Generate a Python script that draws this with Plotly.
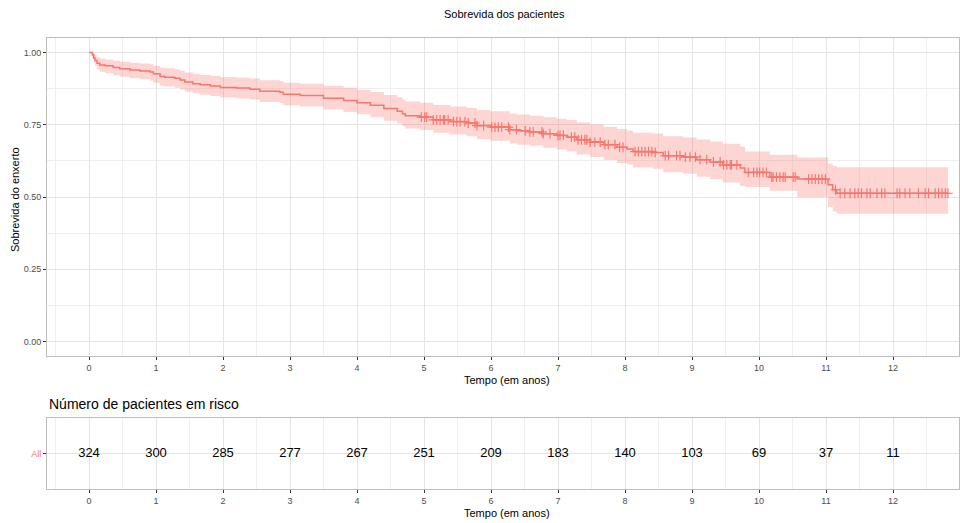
import numpy as np
import plotly.graph_objects as go

# Kaplan-Meier estimate: times of each drop and the survival after it
event_times = [0.00, 0.05, 0.07, 0.09, 0.12, 0.16, 0.24, 0.36, 0.46, 0.61, 0.76, 0.91, 0.96,
               1.06, 1.13, 1.28, 1.36, 1.43, 1.55, 1.66, 1.81, 1.96, 2.20, 2.40, 2.55, 2.85,
               2.90, 3.15, 3.50, 3.80, 4.00, 4.20, 4.40, 4.60, 4.68, 4.72, 4.94, 5.14, 5.39,
               5.64, 5.79, 5.99, 6.28, 6.39, 6.58, 6.78, 6.98, 7.13, 7.28, 7.48, 7.68, 7.88,
               8.03, 8.12, 8.42, 8.57, 8.87, 9.07, 9.27, 9.46, 9.72, 9.79, 10.16, 10.57,
               11.03, 11.10, 11.16]
surv = [1.000, 0.991, 0.981, 0.972, 0.963, 0.957, 0.954, 0.948, 0.944, 0.939, 0.936, 0.932, 0.926,
        0.917, 0.914, 0.911, 0.905, 0.898, 0.892, 0.888, 0.884, 0.879, 0.877, 0.873, 0.866, 0.862,
        0.855, 0.851, 0.842, 0.834, 0.826, 0.817, 0.806, 0.797, 0.788, 0.781, 0.776, 0.767, 0.761,
        0.756, 0.747, 0.742, 0.733, 0.729, 0.725, 0.719, 0.713, 0.707, 0.698, 0.690, 0.681, 0.672,
        0.666, 0.657, 0.654, 0.643, 0.638, 0.629, 0.621, 0.611, 0.600, 0.585, 0.569, 0.562,
        0.542, 0.525, 0.513]
lower = [1.000, 0.978, 0.965, 0.953, 0.941, 0.933, 0.928, 0.921, 0.916, 0.911, 0.907, 0.902, 0.895,
         0.885, 0.882, 0.878, 0.872, 0.864, 0.858, 0.854, 0.849, 0.844, 0.841, 0.837, 0.829, 0.825,
         0.817, 0.813, 0.803, 0.794, 0.786, 0.776, 0.764, 0.754, 0.745, 0.737, 0.732, 0.722, 0.716,
         0.710, 0.700, 0.695, 0.685, 0.681, 0.677, 0.670, 0.664, 0.657, 0.647, 0.638, 0.628, 0.618,
         0.612, 0.602, 0.598, 0.586, 0.580, 0.570, 0.561, 0.550, 0.538, 0.535, 0.522, 0.500,
         0.465, 0.450, 0.442]
upper = [1.000, 1.000, 0.996, 0.990, 0.984, 0.979, 0.976, 0.971, 0.968, 0.964, 0.962, 0.959, 0.954,
         0.947, 0.945, 0.942, 0.937, 0.931, 0.926, 0.922, 0.919, 0.915, 0.913, 0.910, 0.904, 0.901,
         0.895, 0.892, 0.885, 0.878, 0.871, 0.863, 0.853, 0.845, 0.837, 0.830, 0.826, 0.818, 0.813,
         0.809, 0.801, 0.797, 0.789, 0.785, 0.781, 0.776, 0.771, 0.766, 0.758, 0.751, 0.743, 0.735,
         0.730, 0.722, 0.720, 0.710, 0.706, 0.699, 0.692, 0.684, 0.675, 0.657, 0.646, 0.637,
         0.615, 0.607, 0.603]
last_time = 12.82

# Censored observations
censor_times = [4.96, 5.01, 5.04, 5.14, 5.19, 5.24, 5.29, 5.31, 5.36, 5.44, 5.49, 5.54, 5.61,
                5.66, 5.76, 5.79, 5.89, 6.01, 6.06, 6.11, 6.16, 6.26, 6.28, 6.38, 6.51, 6.58,
                6.63, 6.76, 6.78, 6.88, 7.00, 7.03, 7.08, 7.20, 7.25, 7.30, 7.35, 7.40, 7.43,
                7.48, 7.55, 7.63, 7.70, 7.75, 7.85, 7.92, 7.97, 8.15, 8.20, 8.25, 8.30, 8.35,
                8.40, 8.45, 8.60, 8.65, 8.77, 8.82, 8.90, 8.97, 9.05, 9.12, 9.22, 9.32, 9.42,
                9.47, 9.52, 9.57, 9.59, 9.67, 9.84, 9.92, 9.97, 10.01, 10.06, 10.11, 10.19,
                10.21, 10.26, 10.31, 10.36, 10.39, 10.51, 10.54, 10.74, 10.79, 10.84, 10.89,
                10.94, 10.99, 11.14, 11.21, 11.28, 11.36, 11.43, 11.48, 11.53, 11.61, 11.66,
                11.76, 11.83, 11.88, 12.06, 12.10, 12.18, 12.25, 12.38, 12.48, 12.53, 12.63,
                12.68, 12.73, 12.78, 12.82]

# Number at risk table
risk_times = [0, 1, 2, 3, 4, 5, 6, 7, 8, 9, 10, 11, 12]
n_risk = [324, 300, 285, 277, 267, 251, 209, 183, 140, 103, 69, 37, 11]
risk_group = "All"

x_ticks = [0, 1, 2, 3, 4, 5, 6, 7, 8, 9, 10, 11, 12]
y_ticks = [0, 0.25, 0.5, 0.75, 1.0]
y_tick_labels = ["0.00", "0.25", "0.50", "0.75", "1.00"]

RED = "#F8766D"
FONT = "Liberation Sans, Arial, sans-serif"
W, H = 960, 523

# steps extended to the last follow-up time
xs = list(event_times) + [last_time]
s_ext = list(surv) + [surv[-1]]
lo_ext = list(lower) + [lower[-1]]
up_ext = list(upper) + [upper[-1]]

# censor marks sit on the curve
idx = np.searchsorted(np.array(event_times), np.array(censor_times), side="right") - 1
censor_surv = [surv[i] for i in idx]

fig = go.Figure()
fig.add_trace(go.Scatter(x=xs, y=lo_ext, mode="lines", line=dict(width=0, shape="hv"),
                         hoverinfo="skip", xaxis="x", yaxis="y"))
fig.add_trace(go.Scatter(x=xs, y=up_ext, mode="lines", line=dict(width=0, shape="hv"),
                         fill="tonexty", fillcolor="rgba(248,118,109,0.3)",
                         hoverinfo="skip", xaxis="x", yaxis="y"))
fig.add_trace(go.Scatter(x=xs, y=s_ext, mode="lines", line=dict(color=RED, width=1.5, shape="hv"),
                         xaxis="x", yaxis="y"))
fig.add_trace(go.Scatter(x=censor_times, y=censor_surv, mode="markers",
                         marker=dict(symbol="cross-thin", size=7, line=dict(color=RED, width=1.2)),
                         xaxis="x", yaxis="y"))
fig.add_trace(go.Scatter(x=risk_times, y=[0] * len(risk_times), mode="text",
                         text=[str(v) for v in n_risk],
                         textfont=dict(family=FONT, size=13, color="#000000"),
                         xaxis="x2", yaxis="y2"))

x_dom = [47 / W, 959 / W]
top_dom = [(H - 356) / H, (H - 38) / H]
bot_dom = [(H - 489) / H, (H - 417.7) / H]
x_range = [-0.627, 12.985]

common_x = dict(range=x_range, tickmode="array", tickvals=x_ticks,
                ticktext=[str(v) for v in x_ticks],
                tickfont=dict(family=FONT, size=9, color="#4D4D4D"),
                ticks="outside", ticklen=3, tickcolor="#333333", tickwidth=1,
                showgrid=True, gridcolor="#E4E4E4", gridwidth=1,
                minor=dict(dtick=0.5, tick0=0, showgrid=True, gridcolor="#EFEFEF", gridwidth=1),
                showline=True, mirror=True, linecolor="#BDBDBD", linewidth=1,
                zeroline=False, fixedrange=True)

fig.update_layout(
    width=W, height=H,
    margin=dict(l=0, r=0, t=0, b=0),
    paper_bgcolor="white", plot_bgcolor="white",
    showlegend=False,
    font=dict(family=FONT),
    xaxis=dict(domain=x_dom, anchor="y", **common_x),
    yaxis=dict(domain=top_dom, anchor="x", range=[-0.05, 1.05], tickmode="array",
               tickvals=y_ticks, ticktext=y_tick_labels,
               tickfont=dict(family=FONT, size=9, color="#4D4D4D"),
               ticks="outside", ticklen=3, tickcolor="#333333", tickwidth=1,
               showgrid=True, gridcolor="#E4E4E4", gridwidth=1,
               minor=dict(dtick=0.125, tick0=0, showgrid=True, gridcolor="#EFEFEF", gridwidth=1),
               showline=True, mirror=True, linecolor="#BDBDBD", linewidth=1,
               zeroline=False, fixedrange=True),
    xaxis2=dict(domain=x_dom, anchor="y2", **common_x),
    yaxis2=dict(domain=bot_dom, anchor="x2", range=[-1, 1], tickmode="array",
                tickvals=[0], ticktext=[risk_group],
                tickfont=dict(family=FONT, size=9, color=RED),
                ticks="outside", ticklen=3, tickcolor="#333333", tickwidth=1,
                showgrid=True, gridcolor="#E4E4E4", gridwidth=1,
                showline=True, mirror=True, linecolor="#BDBDBD", linewidth=1,
                zeroline=False, fixedrange=True),
    annotations=[
        dict(text="Sobrevida dos pacientes", x=505 / W, y=(H - 14) / H, xref="paper", yref="paper",
             showarrow=False, xanchor="center", yanchor="middle",
             font=dict(family=FONT, size=11, color="#000000")),
        dict(text="Sobrevida do enxerto", x=15 / W, y=(H - 200) / H, xref="paper", yref="paper",
             showarrow=False, xanchor="center", yanchor="middle", textangle=-90,
             font=dict(family=FONT, size=11, color="#000000")),
        dict(text="Tempo (em anos)", x=507 / W, y=(H - 380) / H, xref="paper", yref="paper",
             showarrow=False, xanchor="center", yanchor="middle",
             font=dict(family=FONT, size=11, color="#000000")),
        dict(text="Número de pacientes em risco", x=47 / W, y=(H - 404) / H, xref="paper",
             yref="paper", showarrow=False, xanchor="left", yanchor="middle",
             font=dict(family=FONT, size=14, color="#000000")),
        dict(text="Tempo (em anos)", x=507 / W, y=(H - 513) / H, xref="paper", yref="paper",
             showarrow=False, xanchor="center", yanchor="middle",
             font=dict(family=FONT, size=11, color="#000000")),
    ],
)

fig.write_html("out.html")
